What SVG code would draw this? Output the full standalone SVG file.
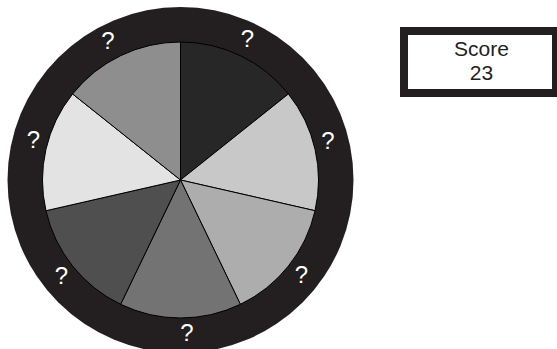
<svg xmlns="http://www.w3.org/2000/svg" width="557" height="349" viewBox="0 0 557 349">
<style>
.wedge{stroke:#000;stroke-width:1;stroke-linejoin:round}
.q{font-family:"Liberation Sans",Arial,sans-serif;font-size:24px;fill:#fff;text-anchor:middle}
.t{font-family:"Liberation Sans",Arial,sans-serif;font-size:21px;fill:#231f20;text-anchor:middle}
</style>
<rect width="557" height="349" fill="#fff"/>
<g id="wheel">
<circle cx="180.5" cy="180" r="173" fill="#231f20"/>
<g id="wedges">
<path class="wedge" fill="#272727" d="M180.5,180 L180.5,42 A138,138 0 0 1 288.39,93.96 Z"/>
<path class="wedge" fill="#c8c8c8" d="M180.5,180 L288.39,93.96 A138,138 0 0 1 315.04,210.71 Z"/>
<path class="wedge" fill="#adadad" d="M180.5,180 L315.04,210.71 A138,138 0 0 1 240.38,304.33 Z"/>
<path class="wedge" fill="#737373" d="M180.5,180 L240.38,304.33 A138,138 0 0 1 120.62,304.33 Z"/>
<path class="wedge" fill="#4f4f4f" d="M180.5,180 L120.62,304.33 A138,138 0 0 1 45.96,210.71 Z"/>
<path class="wedge" fill="#e3e3e3" d="M180.5,180 L45.96,210.71 A138,138 0 0 1 72.61,93.96 Z"/>
<path class="wedge" fill="#8e8e8e" d="M180.5,180 L72.61,93.96 A138,138 0 0 1 180.5,42 Z"/>
</g>
<g id="labels">
<text class="q" x="247.5" y="47">?</text>
<text class="q" x="328" y="149">?</text>
<text class="q" x="301.5" y="283">?</text>
<text class="q" x="187" y="340.5">?</text>
<text class="q" x="61.5" y="284">?</text>
<text class="q" x="33.5" y="148">?</text>
<text class="q" x="108" y="49">?</text>
</g>
</g>
<g id="score">
<rect x="400" y="27" width="162" height="70" fill="#231f20"/>
<rect x="408" y="35" width="144" height="54" fill="#fff"/>
<text class="t" x="481.5" y="55.5">Score</text>
<text class="t" x="481.5" y="79.5">23</text>
</g>
</svg>
